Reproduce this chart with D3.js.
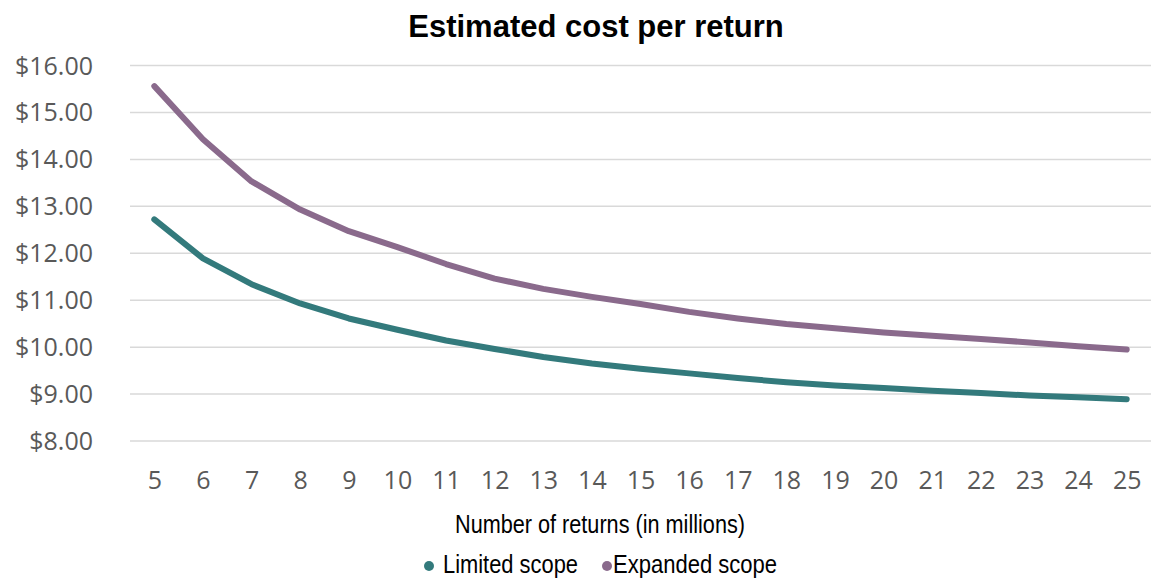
<!DOCTYPE html>
<html>
<head>
<meta charset="utf-8">
<script src="https://cdn.jsdelivr.net/npm/d3@7"></script>
<style>
  body { margin: 0; background: #fff; }
</style>
</head>
<body>
<div id="chart"></div>
<script>
// number of returns (millions)
const returns = [5, 6, 7, 8, 9, 10, 11, 12, 13, 14, 15, 16, 17, 18, 19, 20, 21, 22, 23, 24, 25];
const limitedScope = [12.71, 11.88, 11.33, 10.92, 10.60, 10.36, 10.13, 9.95, 9.78, 9.64, 9.53,
                      9.43, 9.33, 9.24, 9.17, 9.12, 9.06, 9.01, 8.96, 8.92, 8.88];
const expandedScope = [15.55, 14.42, 13.52, 12.92, 12.46, 12.12, 11.76, 11.45, 11.23, 11.06, 10.91,
                       10.74, 10.60, 10.48, 10.39, 10.30, 10.23, 10.16, 10.09, 10.01, 9.94];
const yTicks = [8, 9, 10, 11, 12, 13, 14, 15, 16];
const seriesNames = ["Limited scope", "Expanded scope"];

const width = 1151, height = 579;
const colors = { "Limited scope": "#337a7c", "Expanded scope": "#8a6a8c" };
const narrow = "'Liberation Sans Narrow', 'Arial Narrow', 'Liberation Sans', Arial, sans-serif";

const svg = d3.select("#chart").append("svg")
    .attr("width", width)
    .attr("height", height);

const x = d3.scalePoint()
    .domain(returns)
    .range([130, 1151])
    .padding(0.5);

const y = d3.scaleLinear()
    .domain([8, 16])
    .range([440.5, 65]);

// title
svg.append("text")
    .attr("x", 596)
    .attr("y", 37)
    .attr("text-anchor", "middle")
    .style("font-family", "'Liberation Sans', Arial, sans-serif")
    .style("font-weight", "bold")
    .style("font-size", "31px")
    .style("fill", "#000")
    .text("Estimated cost per return");

// gridlines + y labels
const yAxis = d3.axisLeft(y)
    .tickValues(yTicks)
    .tickSize(-(1151 - 130))
    .tickPadding(37)
    .tickFormat(d => "$" + d3.format(".2f")(d));

const gy = svg.append("g")
    .attr("transform", "translate(130,0)")
    .call(yAxis);
gy.select(".domain").remove();
gy.selectAll(".tick line")
    .attr("stroke", "#d9d9d9")
    .attr("stroke-width", 1.5);
gy.selectAll(".tick text")
    .attr("dy", "0.36em")
    .style("font-family", "'Open Sans', sans-serif")
    .style("font-size", "25px")
    .style("fill", "#595959");

// x labels
const xAxis = d3.axisBottom(x).tickSize(0).tickPadding(0);
const gx = svg.append("g")
    .attr("transform", "translate(0,471)")
    .call(xAxis);
gx.select(".domain").remove();
gx.selectAll(".tick text")
    .attr("dy", "0.71em")
    .style("font-family", "'Open Sans', sans-serif")
    .style("font-size", "25px")
    .style("fill", "#595959");

// axis title
svg.append("text")
    .attr("x", 600)
    .attr("y", 533)
    .attr("text-anchor", "middle")
    .style("font-family", narrow)
    .style("font-size", "25px")
    .style("fill", "#000")
    .attr("textLength", 290)
    .attr("lengthAdjust", "spacingAndGlyphs")
    .text("Number of returns (in millions)");

// lines
const line = d3.line()
    .x((d, i) => x(returns[i]))
    .y(d => y(d));

const series = [limitedScope, expandedScope];
series.forEach((vals, k) => {
    svg.append("path")
        .datum(vals)
        .attr("d", line)
        .attr("fill", "none")
        .attr("stroke", colors[seriesNames[k]])
        .attr("stroke-width", 6)
        .attr("stroke-linecap", "round")
        .attr("stroke-linejoin", "round");
});

// legend
const legendX = [429, 607];
const legendTextLen = [135, 164];
const legend = svg.append("g");
seriesNames.forEach((name, k) => {
    legend.append("circle")
        .attr("cx", legendX[k])
        .attr("cy", 566)
        .attr("r", 5)
        .attr("fill", colors[name]);
    legend.append("text")
        .attr("x", legendX[k] + (k === 0 ? 14 : 6))
        .attr("y", 573)
        .style("font-family", narrow)
        .style("font-size", "25px")
        .style("fill", "#000")
        .attr("textLength", legendTextLen[k])
        .attr("lengthAdjust", "spacingAndGlyphs")
        .text(name);
});
</script>
</body>
</html>
